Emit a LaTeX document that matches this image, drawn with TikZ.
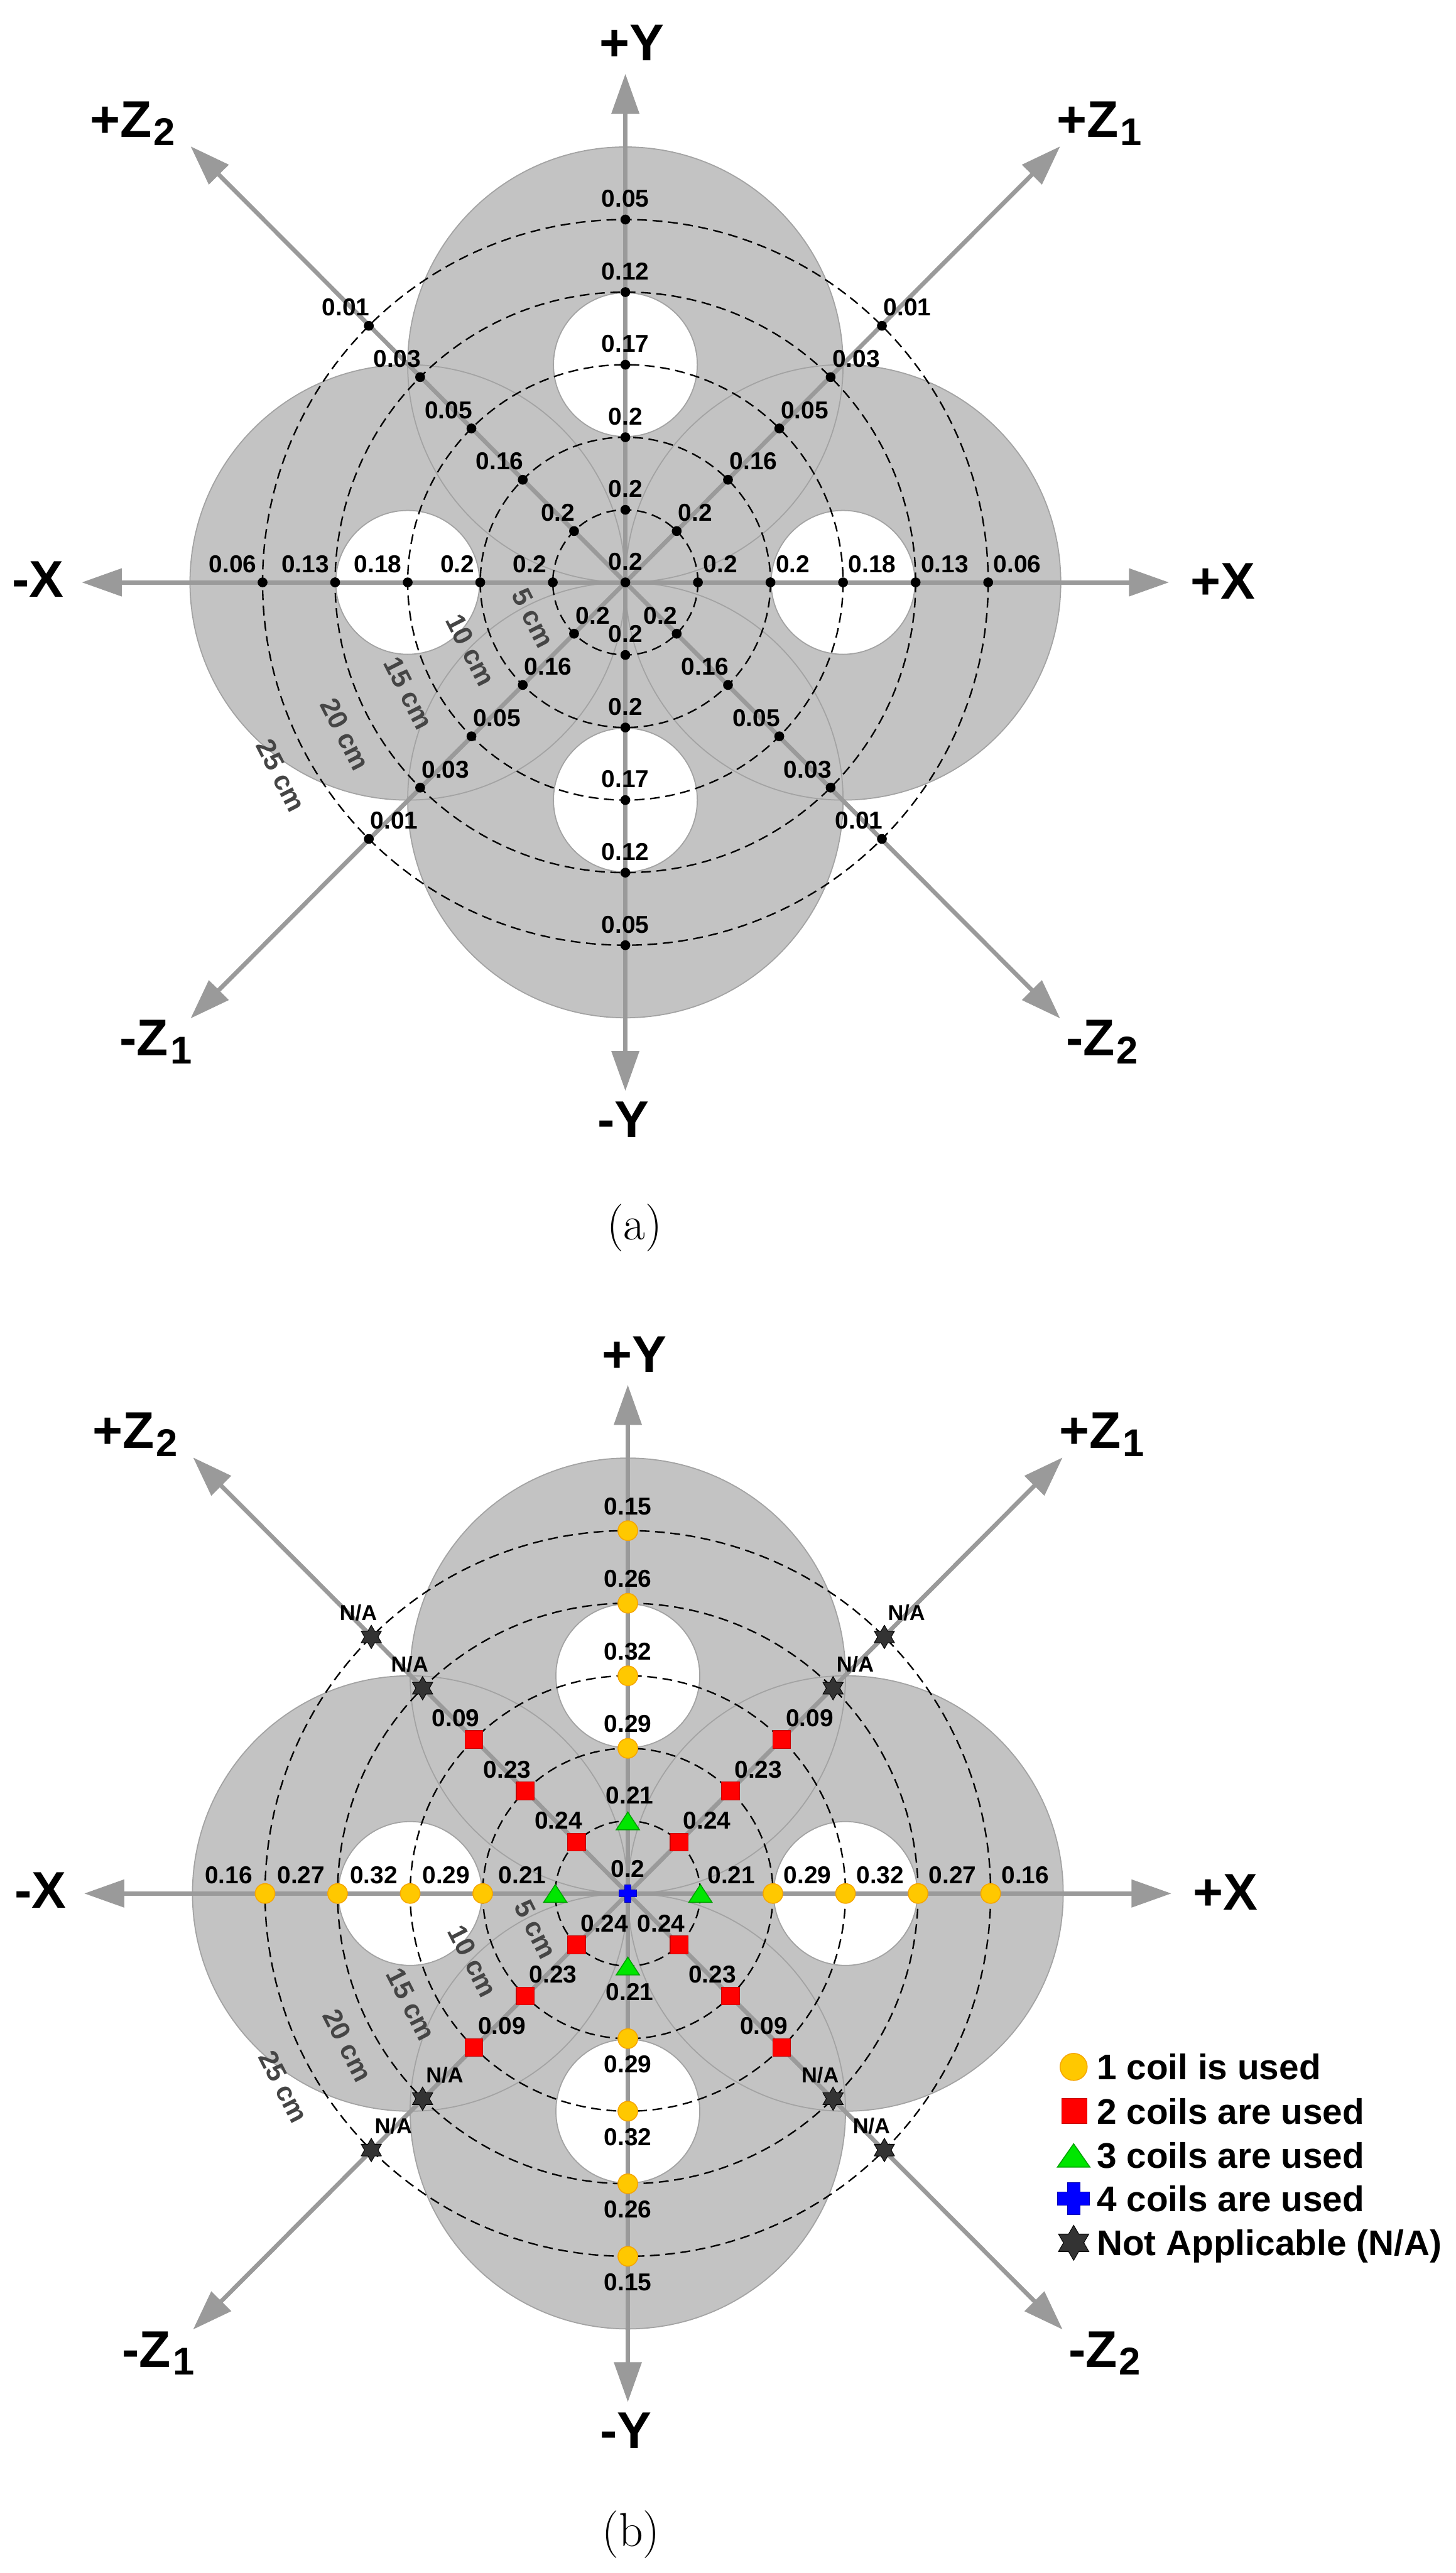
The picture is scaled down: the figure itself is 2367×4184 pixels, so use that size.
\documentclass[tikz,border=0pt]{standalone}
\usepackage{fontspec}
\newfontfamily\lsans{Liberation Sans}
\usetikzlibrary{shapes.geometric,arrows.meta}
\definecolor{fillgray}{HTML}{C3C3C3}
\definecolor{rimgray}{HTML}{A3A3A3}
\definecolor{axgray}{HTML}{9A9A9A}
\definecolor{cmgray}{HTML}{454545}
\definecolor{onefill}{HTML}{FFC800}
\definecolor{onedraw}{HTML}{F5A500}
\definecolor{twofill}{HTML}{FF0000}
\definecolor{twodraw}{HTML}{C80000}
\definecolor{threefill}{HTML}{00E600}
\definecolor{threedraw}{HTML}{00A000}
\definecolor{fourfill}{HTML}{0000FF}
\definecolor{fourdraw}{HTML}{0000B4}
\definecolor{nafill}{HTML}{333333}
\newcommand\valfont{\lsans\bfseries\fontsize{11.3}{13}\selectfont}
\newcommand\nafont{\lsans\bfseries\fontsize{10}{12}\selectfont}
\newcommand\cmfont{\lsans\bfseries\fontsize{12.5}{15}\selectfont}
\newcommand\axfont{\lsans\bfseries\fontsize{23.9}{28}\selectfont}
\newcommand\axsub[1]{\hspace{0.3mm}\raisebox{-1.3mm}{\fontsize{17.9}{20}\selectfont #1}}
\newcommand\legfont{\lsans\bfseries\fontsize{16.5}{19}\selectfont}
\tikzset{
  fillzone/.style={fill=fillgray},
  rimline/.style={draw=rimgray, line width=0.18mm},
  hole/.style={fill=white, draw=rimgray, line width=0.18mm},
  ring/.style={draw=black, line width=0.24mm, dash pattern=on 1.6mm off 0.9mm},
  axisarrow/.style={draw=axgray, line width=0.7mm, -{Triangle[length=6.5mm,width=4.4mm]}},
  dotA/.style={circle, fill=black, inner sep=0pt, minimum size=1.6mm},
  mkone/.style={circle, fill=onefill, draw=onedraw, line width=0.15mm, inner sep=0pt, minimum size=3.2mm},
  mktwo/.style={rectangle, fill=twofill, draw=twodraw, line width=0.12mm, inner sep=0pt, minimum size=2.9mm},
  mkna/.style={star, star points=6, star point ratio=1.73, fill=nafill, draw=black, line width=0.1mm, inner sep=0pt, minimum size=3.8mm},
  triA/.style={fill=threefill, draw=threedraw, line width=0.15mm},
  plusA/.style={fill=fourfill, draw=fourdraw, line width=0.1mm},
  val/.style={font=\valfont, inner sep=0pt},
  nav/.style={font=\nafont, inner sep=0pt},
  axlab/.style={font=\axfont, inner sep=0pt},
  cmlab/.style={font=\cmfont, text=cmgray, inner sep=0pt, rotate=-63},
  leg/.style={font=\legfont, inner sep=0pt, anchor=base west},
  capt/.style={font=\fontsize{22}{26}\selectfont, inner sep=0pt},
}
\newcommand\drawtri[3]{\filldraw[triA] ([shift={(0,-#3/2)}]#1) -- ([shift={(#2,#3/2)}]#1) -- ([shift={(-#2,#3/2)}]#1) -- cycle;}
\newcommand\drawplus[3]{\filldraw[plusA] ([shift={(-#3,-#2)}]#1) -- ([shift={(#3,-#2)}]#1) -- ([shift={(#3,-#3)}]#1) -- ([shift={(#2,-#3)}]#1) -- ([shift={(#2,#3)}]#1) -- ([shift={(#3,#3)}]#1) -- ([shift={(#3,#2)}]#1) -- ([shift={(-#3,#2)}]#1) -- ([shift={(-#3,#3)}]#1) -- ([shift={(-#2,#3)}]#1) -- ([shift={(-#2,-#3)}]#1) -- ([shift={(-#3,-#3)}]#1) -- cycle;}
\newcommand\drawpanelbase[1]{%
  \fill[fillzone] (354,0) circle[radius=354] (-354,0) circle[radius=354] (0,354) circle[radius=354] (0,-354) circle[radius=354];
  \foreach \qx/\qy in {354/0,-354/0,0/354,0/-354} {\draw[rimline] (\qx,\qy) circle[radius=354];}
  \foreach \qx/\qy in {354/0,-354/0,0/354,0/-354} {\draw[hole] (\qx,\qy) circle[radius=117];}
  \foreach \k in {1,...,5} {\draw[ring] (0,0) circle[radius=\k*118];}
  \coordinate (#1-o) at (0,0);
  \coordinate (#1-tpx) at (884,0);
  \coordinate (#1-tmx) at (-884,0);
  \coordinate (#1-tpy) at (0,-827);
  \coordinate (#1-tmy) at (0,827);
  \coordinate (#1-tpz1) at (707,-709);
  \coordinate (#1-tpz2) at (-707,-709);
  \coordinate (#1-tmz1) at (-707,709);
  \coordinate (#1-tmz2) at (707,709);
  \foreach \t in {tpx,tmx,tpy,tmy,tpz1,tpz2,tmz1,tmz2} {\draw[axisarrow] (#1-o) -- (#1-\t);}
  \node[axlab] (#1-lpy) at (11,-877) {+Y};
  \node[axlab] (#1-lmy) at (-3,873) {-Y};
  \node[axlab] (#1-lpx) at (972,-2) {+X};
  \node[axlab] (#1-lmx) at (-955,-5) {-X};
  \node[axlab, anchor=base west] (#1-lpz1) at (701,-724) {+Z\axsub{1}};
  \node[axlab, anchor=base west] (#1-lpz2) at (-871,-724) {+Z\axsub{2}};
  \node[axlab, anchor=base west] (#1-lmz1) at (-823,770) {-Z\axsub{1}};
  \node[axlab, anchor=base west] (#1-lmz2) at (716,770) {-Z\axsub{2}};
  \node[cmlab] (#1-cm5) at (-150,58) {5 cm};
  \node[cmlab] (#1-cm10) at (-252,110) {10 cm};
  \node[cmlab] (#1-cm15) at (-353,180) {15 cm};
  \node[cmlab] (#1-cm20) at (-456,247) {20 cm};
  \node[cmlab] (#1-cm25) at (-560,314) {25 cm};
}
\begin{document}
\begin{tikzpicture}[x=0.1mm, y=-0.1mm]
\fill[white] (0,0) rectangle (2367,4184);
\useasboundingbox (0,0) rectangle (2367,4184);
% ---------------- panel (a)
\begin{scope}[shift={(1017,947)}]
\drawpanelbase{a}
\node[dotA] (a-c) at (0,0) {};
\node[val, anchor=south] (a-c-t) at ([shift={(0,-19)}]a-c) {0.2};
\foreach \v [count=\k] in {0.2,0.2,0.18,0.13,0.06}{
  \node[dotA] (a-px-\k) at (\k*118,0) {};
  \node[val, anchor=south west] (a-px-\k-t) at ([shift={(8,-15)}]a-px-\k) {\v};
  \node[dotA] (a-mx-\k) at (-\k*118,0) {};
  \node[val, anchor=south east] (a-mx-\k-t) at ([shift={(-9,-15)}]a-mx-\k) {\v};
}
\foreach \v [count=\k] in {0.2,0.2,0.17,0.12,0.05}{
  \node[dotA] (a-py-\k) at (0,-\k*118) {};
  \node[val, anchor=south] (a-py-\k-t) at ([shift={(0,-19)}]a-py-\k) {\v};
  \node[dotA] (a-my-\k) at (0,\k*118) {};
  \node[val, anchor=south] (a-my-\k-t) at ([shift={(0,-19)}]a-my-\k) {\v};
}
\foreach \v [count=\k] in {0.2,0.16,0.05,0.03,0.01}{
  \node[dotA] (a-pz1-\k) at (\k*83.44,-\k*83.44) {};
  \node[val, anchor=south west] (a-pz1-\k-t) at ([shift={(2,-15)}]a-pz1-\k) {\v};
  \node[dotA] (a-mz1-\k) at (-\k*83.44,\k*83.44) {};
  \node[val, anchor=south west] (a-mz1-\k-t) at ([shift={(2,-15)}]a-mz1-\k) {\v};
  \node[dotA] (a-pz2-\k) at (-\k*83.44,-\k*83.44) {};
  \node[val, anchor=south east] (a-pz2-\k-t) at ([shift={(2,-15)}]a-pz2-\k) {\v};
  \node[dotA] (a-mz2-\k) at (\k*83.44,\k*83.44) {};
  \node[val, anchor=south east] (a-mz2-\k-t) at ([shift={(2,-15)}]a-mz2-\k) {\v};
}
\end{scope}
\node[capt] (cap-a) at (1032,1997) {(a)};
% ---------------- panel (b)
\begin{scope}[shift={(1021,3079)}]
\drawpanelbase{b}
% X axis
\coordinate (b-px-1) at (118,0); \drawtri{b-px-1}{19}{29}
\node[val, anchor=south west] (b-px-1-t) at ([shift={(11,-15)}]b-px-1) {0.21};
\coordinate (b-mx-1) at (-118,0); \drawtri{b-mx-1}{19}{29}
\node[val, anchor=south east] (b-mx-1-t) at ([shift={(-14,-15)}]b-mx-1) {0.21};
\foreach \v [count=\j] in {0.29,0.32,0.27,0.16}{
  \pgfmathtruncatemacro\k{\j+1}
  \node[mkone] (b-px-\k) at (\k*118,0) {};
  \node[val, anchor=south west] (b-px-\k-t) at ([shift={(17,-15)}]b-px-\k) {\v};
  \node[mkone] (b-mx-\k) at (-\k*118,0) {};
  \node[val, anchor=south east] (b-mx-\k-t) at ([shift={(-20,-15)}]b-mx-\k) {\v};
}
% Y axis
\coordinate (b-py-1) at (0,-118); \drawtri{b-py-1}{19}{29}
\node[val, anchor=south] (b-py-1-t) at ([shift={(3,-27)}]b-py-1) {0.21};
\coordinate (b-my-1) at (0,118); \drawtri{b-my-1}{19}{29}
\node[val, anchor=north] (b-my-1-t) at ([shift={(3,27)}]b-my-1) {0.21};
\foreach \v [count=\j] in {0.29,0.32,0.26,0.15}{
  \pgfmathtruncatemacro\k{\j+1}
  \node[mkone] (b-py-\k) at (0,-\k*118) {};
  \node[val, anchor=south] (b-py-\k-t) at ([shift={(0,-25)}]b-py-\k) {\v};
  \node[mkone] (b-my-\k) at (0,\k*118) {};
  \node[val, anchor=north] (b-my-\k-t) at ([shift={(0,27)}]b-my-\k) {\v};
}
% diagonals
\foreach \v [count=\k] in {0.24,0.23,0.09}{
  \node[mktwo] (b-pz1-\k) at (\k*83.44,-\k*83.44) {};
  \node[val, anchor=south west] (b-pz1-\k-t) at ([shift={(6,-20)}]b-pz1-\k) {\v};
  \node[mktwo] (b-mz1-\k) at (-\k*83.44,\k*83.44) {};
  \node[val, anchor=south west] (b-mz1-\k-t) at ([shift={(6,-20)}]b-mz1-\k) {\v};
  \node[mktwo] (b-pz2-\k) at (-\k*83.44,-\k*83.44) {};
  \node[val, anchor=south east] (b-pz2-\k-t) at ([shift={(10,-20)}]b-pz2-\k) {\v};
  \node[mktwo] (b-mz2-\k) at (\k*83.44,\k*83.44) {};
  \node[val, anchor=south east] (b-mz2-\k-t) at ([shift={(10,-20)}]b-mz2-\k) {\v};
}
\foreach \k in {4,5}{
  \node[mkna] (b-pz1-\k) at (\k*83.44,-\k*83.44) {};
  \node[nav, anchor=south west] (b-pz1-\k-t) at ([shift={(5,-25)}]b-pz1-\k) {N/A};
  \node[mkna] (b-mz1-\k) at (-\k*83.44,\k*83.44) {};
  \node[nav, anchor=south west] (b-mz1-\k-t) at ([shift={(5,-25)}]b-mz1-\k) {N/A};
  \node[mkna] (b-pz2-\k) at (-\k*83.44,-\k*83.44) {};
  \node[nav, anchor=south east] (b-pz2-\k-t) at ([shift={(10,-25)}]b-pz2-\k) {N/A};
  \node[mkna] (b-mz2-\k) at (\k*83.44,\k*83.44) {};
  \node[nav, anchor=south east] (b-mz2-\k-t) at ([shift={(10,-25)}]b-mz2-\k) {N/A};
}
% centre
\drawplus{b-o}{14.5}{5.5}
\node[val, anchor=south] (b-c-t) at ([shift={(0,-25)}]b-o) {0.2};
\end{scope}
% legend
\node[mkone, minimum size=4.4mm] (lg1) at (1746,3361) {};
\node[mktwo, minimum size=4.1mm] (lg2) at (1747,3433) {};
\coordinate (lg3) at (1746,3505); \drawtri{lg3}{26.5}{38}
\coordinate (lg4) at (1746,3575); \drawplus{lg4}{26}{10.5}
\node[mkna, minimum size=5.7mm] (lg5) at (1746,3647) {};
\node[leg] (lt1) at (1783,3382) {1 coil is used};
\node[leg] (lt2) at (1783,3454) {2 coils are used};
\node[leg] (lt3) at (1783,3526) {3 coils are used};
\node[leg] (lt4) at (1783,3596) {4 coils are used};
\node[leg] (lt5) at (1783,3668) {Not Applicable (N/A)};
\node[capt] (cap-b) at (1026,4121) {(b)};
\end{tikzpicture}
\end{document}
